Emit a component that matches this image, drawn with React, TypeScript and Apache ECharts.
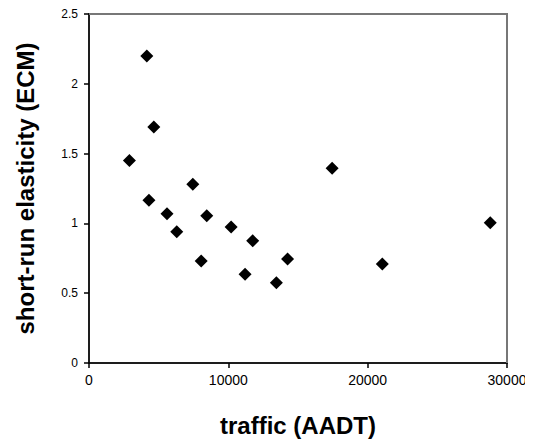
import React, { useEffect, useRef } from "react";
import * as echarts from "echarts";

const traffic = [2900, 4150, 4650, 4300, 5600, 6300, 7450, 8050, 8450, 10200, 11750, 11200, 14250, 13450, 17450, 21050, 28800];
const elasticity = [1.45, 2.2, 1.69, 1.165, 1.07, 0.94, 1.28, 0.73, 1.055, 0.975, 0.875, 0.635, 0.745, 0.575, 1.395, 0.71, 1.005];
const xTitle = "traffic (AADT)";
const yTitle = "short-run elasticity (ECM)";
const xMax = 30000;
const yMax = 2.5;

export default function App() {
  const ref = useRef<HTMLDivElement>(null);
  useEffect(() => {
    if (!ref.current) return;
    const chart = echarts.init(ref.current, undefined, { renderer: "svg" });
    const font = "Liberation Sans, Arial, sans-serif";
    chart.setOption({
      animation: false,
      backgroundColor: "#ffffff",
      grid: {
        left: 89,
        right: 26,
        top: 14,
        bottom: 84,
        show: true,
        borderColor: "#777777",
        borderWidth: 2,
      },
      xAxis: {
        type: "value",
        min: 0,
        max: xMax,
        interval: 10000,
        name: xTitle,
        nameLocation: "middle",
        nameGap: 50,
        nameTextStyle: { fontFamily: font, fontWeight: "bold", fontSize: 24, color: "#000" },
        axisLine: { show: true, onZero: false, lineStyle: { color: "#000", width: 1.5 } },
        axisTick: { show: true, inside: false, length: 5, lineStyle: { color: "#000", width: 1.5 } },
        axisLabel: { fontFamily: font, fontSize: 14, color: "#000", margin: 10, formatter: (v: number) => String(v) },
        splitLine: { show: false },
      },
      yAxis: {
        type: "value",
        min: 0,
        max: yMax,
        interval: 0.5,
        name: yTitle,
        nameLocation: "middle",
        nameGap: 52,
        nameTextStyle: { fontFamily: font, fontWeight: "bold", fontSize: 24, color: "#000" },
        axisLine: { show: true, onZero: false, lineStyle: { color: "#000", width: 1.5 } },
        axisTick: { show: true, inside: false, length: 5, lineStyle: { color: "#000", width: 1.5 } },
        axisLabel: { fontFamily: font, fontSize: 12, color: "#000", margin: 11 },
        splitLine: { show: false },
      },
      series: [
        {
          type: "line",
          silent: true,
          showSymbol: false,
          symbol: "none",
          clip: false,
          z: 1,
          lineStyle: { color: "#777777", width: 2, type: "solid" },
          data: [[0, yMax], [xMax, yMax], [xMax, 0]],
        },
        {
          type: "scatter",
          symbol: "diamond",
          symbolSize: 13,
          z: 3,
          itemStyle: { color: "#000", opacity: 1 },
          data: traffic.map((x, i) => [x, elasticity[i]]),
        },
      ],
    });
    return () => chart.dispose();
  }, []);
  return <div ref={ref} style={{ width: 533, height: 447, margin: -8 }} />;
}
